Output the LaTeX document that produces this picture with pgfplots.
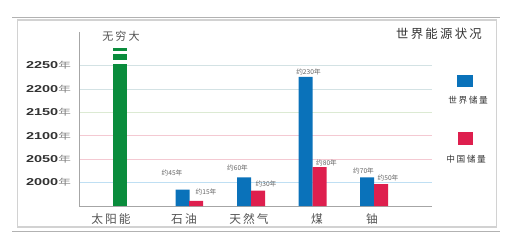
\documentclass[border=0pt]{standalone}
\usepackage{pgfplots}
\pgfplotsset{compat=1.18}
\usepackage{fontspec}
\setmainfont{Liberation Sans}
\newfontfamily\cjk{Noto Sans CJK SC}
\newfontfamily\cjksp[LetterSpace=18]{Noto Sans CJK SC}
\definecolor{cblue}{HTML}{0A72BA}
\definecolor{cred}{HTML}{DE1F4E}
\definecolor{cgreen}{HTML}{0A8C3C}
\definecolor{gblue}{HTML}{BFDFF3}
\definecolor{gpink}{HTML}{F4C9D2}
\definecolor{ggreen}{HTML}{DCEAD3}
\definecolor{ggray}{HTML}{D3E2E4}
\definecolor{txt}{HTML}{333333}
\begin{document}
\begin{tikzpicture}
\begin{scope}[x=0.75pt,y=-0.75pt]
\path[use as bounding box] (0,0) rectangle (520,250);
\draw[gray!60, line width=0.6pt] (12,17.5) -- (500,17.5);
\draw[gray!60, line width=0.6pt] (12,231) -- (500,231);
\draw[gray!35, line width=0.8pt] (17.5,20) rectangle (496.5,227);
\end{scope}
\begin{axis}[
  scale only axis,
  anchor=south west,
  at={(59.25pt,-154.5pt)},
  width=264.75pt, height=130.5pt,
  xmin=79, xmax=432, ymin=1950, ymax=2322,
  axis line style={draw=none},
  axis x line*=bottom, axis y line*=left,
  /pgf/number format/assume math mode=true,
  ytick={2000,2050,2100,2150,2200,2250},
  yticklabel={\textbf{\pgfmathprintnumber[1000 sep=,assume math mode=true]{\tick}}{\cjk\fontsize{6.5}{7}\selectfont\color{gray}年}},
  yticklabel style={font=\fontsize{7.5}{9}\selectfont, text=txt, xshift=-1pt, xscale=1.45},
  major tick length=0pt,
  xtick={111,184,249,317,372},
  xticklabels={太阳能,石油,天然气,煤,铀},
  xticklabel style={font=\cjksp\fontsize{8.8}{10}\selectfont, text=txt!85, yshift=-2pt},
  ybar, bar width=14, bar shift=0pt,
  clip=false,
]
% grid lines
\addplot[sharp plot, gblue, line width=0.6pt] coordinates {(79,2000) (432,2000)};
\addplot[sharp plot, gpink, line width=0.6pt] coordinates {(79,2050) (432,2050)};
\addplot[sharp plot, gpink, line width=0.6pt] coordinates {(79,2100) (432,2100)};
\addplot[sharp plot, ggreen, line width=0.6pt] coordinates {(79,2150) (432,2150)};
\addplot[sharp plot, ggray, line width=0.6pt] coordinates {(79,2200) (432,2200)};
\addplot[sharp plot, ggray, line width=0.6pt] coordinates {(79,2250) (432,2250)};
% axes
\addplot[sharp plot, gray!70, line width=0.7pt] coordinates {(79,2322) (79,1950)};
\addplot[sharp plot, gray!70, line width=0.7pt] coordinates {(79,1950) (432,1950)};
% solar
\addplot[fill=cgreen, draw=none] coordinates {(120,2287.5)};
\addplot[sharp plot, white, line width=2.3pt] coordinates {(112,2277.6) (128,2277.6)};
\addplot[sharp plot, white, line width=2.5pt] coordinates {(112,2258.2) (128,2258.2)};
% world
\addplot[fill=cblue, draw=none] coordinates {(182.5,1985) (244,2011) (305.5,2226) (367,2011)};
% china
\addplot[fill=cred, draw=none] coordinates {(196,1961) (258,1983) (319.5,2033) (381,1997)};
% annotations
\node[font=\cjksp\fontsize{8.3}{10}\selectfont, text=txt!85] at (axis cs:121,2292) [anchor=south] {无穷大};
\begin{scope}[every node/.style={font=\cjk\fontsize{5}{6}\selectfont, text=gray!80!black, inner sep=0pt}]
\node at (axis cs:172,2020) {约45年};
\node at (axis cs:206,1981) {约15年};
\node at (axis cs:237.5,2031) {约60年};
\node at (axis cs:266,1997) {约30年};
\node at (axis cs:308.5,2236) {约230年};
\node at (axis cs:326.5,2041) {约80年};
\node at (axis cs:363.5,2024) {约70年};
\node at (axis cs:388,2010) {约50年};
\end{scope}
\end{axis}
\begin{scope}[x=0.75pt,y=-0.75pt]
\node[font=\cjksp\fontsize{9.3}{10}\selectfont, text=txt] at (439,34) {世界能源状况};
\fill[cblue] (457,75) rectangle (473,87);
\node[font=\cjksp\fontsize{6.5}{7}\selectfont, text=txt] at (468,100) {世界储量};
\fill[cred] (458,132) rectangle (473,145);
\node[font=\cjksp\fontsize{6.5}{7}\selectfont, text=txt] at (466,159) {中国储量};
\end{scope}
\end{tikzpicture}
\end{document}
